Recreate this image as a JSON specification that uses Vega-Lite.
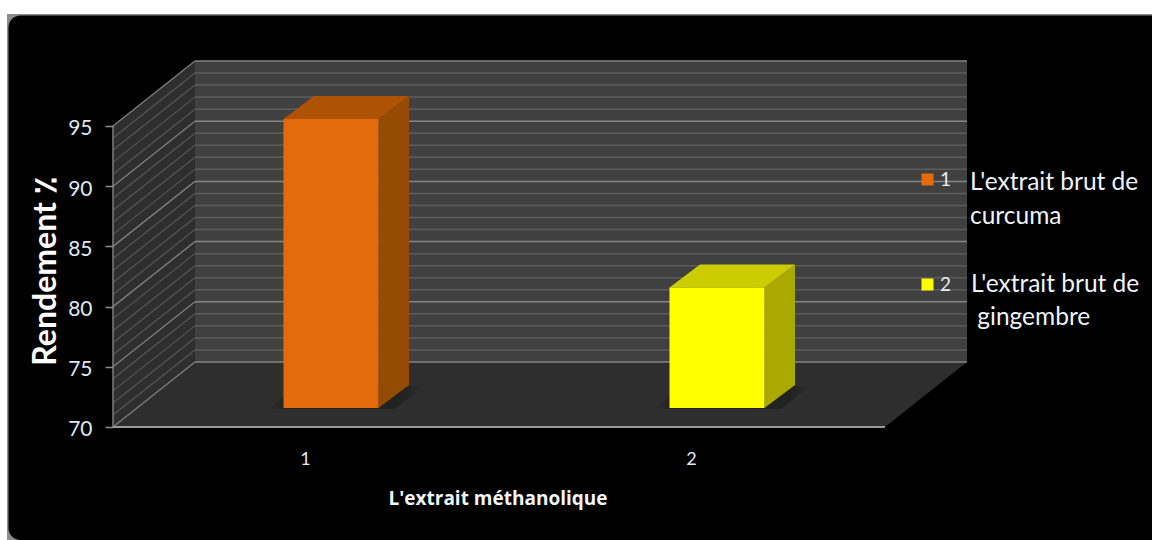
{
  "$schema": "https://vega.github.io/schema/vega-lite/v6.json",
  "width": 1152,
  "height": 540,
  "padding": 0,
  "autosize": {"type": "none"},
  "background": "#ffffff",
  "config": {"view": {"stroke": null}, "font": "Lato", "scale": {"continuousPadding": 0}},
  "resolve": {"axis": {"x": "independent", "y": "independent"}},
  "datasets": {
    "cadre": [{"plan": "cadre"}],
    "profondeur": [{"profondeur": 0}, {"profondeur": 1}],
    "graduations": [
      {"valeur": 70}, {"valeur": 71}, {"valeur": 72}, {"valeur": 73}, {"valeur": 74}, {"valeur": 75},
      {"valeur": 76}, {"valeur": 77}, {"valeur": 78}, {"valeur": 79}, {"valeur": 80}, {"valeur": 81},
      {"valeur": 82}, {"valeur": 83}, {"valeur": 84}, {"valeur": 85}, {"valeur": 86}, {"valeur": 87},
      {"valeur": 88}, {"valeur": 89}, {"valeur": 90}, {"valeur": 91}, {"valeur": 92}, {"valeur": 93},
      {"valeur": 94}, {"valeur": 95}
    ],
    "extraits": [
      {"extrait": 1, "rendement": 94, "profondeur": [0, 1], "description": ["L'extrait brut de", "curcuma"]},
      {"extrait": 2, "rendement": 80, "profondeur": [0, 1], "description": ["L'extrait brut de", "\u200b\u00a0gingembre"]}
    ]
  },
  "layer": [
    {
      "data": {"name": "cadre"},
      "mark": {"type": "rect", "fill": "#8c8c8c"},
      "encoding": {
        "x": {"datum": 0.2254, "type": "quantitative", "scale": {"domain": [0.2073, 3.1917]},
          "axis": {"orient": "bottom", "offset": -113, "values": [1, 2], "format": "d", "domain": false, "ticks": false, "grid": false,
            "labelColor": "#dfe8f2", "labelFontSize": 18, "labelPadding": 23, "labelOffset": -1, "zindex": 1,
            "title": "L'extrait méthanolique", "titleColor": "#f2f6fb", "titleFontSize": 19, "titleFontWeight": "bold", "titleFont": "Open Sans",
            "titleX": 497.5, "titleY": 77, "titleAlign": "center", "titleBaseline": "alphabetic"}},
        "x2": {"datum": 3.1917},
        "y": {"datum": 104.3, "type": "quantitative", "scale": {"domain": [60.614, 105.465]},
          "axis": {"orient": "left", "offset": -113, "values": [70, 75, 80, 85, 90, 95], "domain": false, "grid": false,
            "tickColor": "#8c8c8c", "tickWidth": 1.5, "tickSize": 8, "labelColor": "#dfe8f2", "labelFontSize": 21, "labelPadding": 13, "labelOffset": 3, "zindex": 1,
            "title": "Rendement ٪", "titleColor": "#ffffff", "titleFontSize": 32, "titleFontWeight": "bold", "titleFont": "Lato",
            "titleX": -58, "titleY": 271, "titleAlign": "center", "titleBaseline": "alphabetic"}},
        "y2": {"datum": 60.614}
      }
    },
    {
      "data": {"name": "cadre"},
      "mark": {"type": "rect", "fill": "#000000", "cornerRadiusTopLeft": 12, "cornerRadiusBottomLeft": 12},
      "encoding": {
        "x": {"datum": 0.2293, "type": "quantitative", "scale": {"domain": [0.2073, 3.1917]}, "axis": null},
        "x2": {"datum": 3.1917},
        "y": {"datum": 104.18, "type": "quantitative", "scale": {"domain": [60.614, 105.465]}, "axis": null},
        "y2": {"datum": 60.614}
      }
    },
    {
      "data": {"name": "cadre"},
      "mark": {"type": "rect", "fill": "#404040", "xOffset": 82, "x2Offset": 82, "yOffset": -65, "y2Offset": -65},
      "encoding": {
        "x": {"datum": 0.5, "type": "quantitative", "scale": {"domain": [0.2073, 3.1917]}, "axis": null},
        "x2": {"datum": 2.5},
        "y": {"datum": 95, "type": "quantitative", "scale": {"domain": [60.614, 105.465]}, "axis": null},
        "y2": {"datum": 70}
      }
    },
    {
      "data": {"name": "profondeur"},
      "transform": [
        {"calculate": "0.5 + datum.profondeur * 0.2124", "as": "px"},
        {"calculate": "70 + datum.profondeur * 5.4", "as": "bas"},
        {"calculate": "95 + datum.profondeur * 5.4", "as": "haut"}
      ],
      "mark": {"type": "area", "fill": "#2e2e2e", "orient": "vertical"},
      "encoding": {
        "x": {"field": "px", "type": "quantitative", "scale": {"domain": [0.2073, 3.1917]}, "axis": null},
        "y": {"field": "haut", "type": "quantitative", "scale": {"domain": [60.614, 105.465]}, "axis": null},
        "y2": {"field": "bas"}
      }
    },
    {
      "data": {"name": "profondeur"},
      "transform": [
        {"calculate": "0.5 + datum.profondeur * 0.2124", "as": "gauche"},
        {"calculate": "2.5 + datum.profondeur * 0.2124", "as": "droite"},
        {"calculate": "70 + datum.profondeur * 5.4", "as": "niveau"}
      ],
      "mark": {"type": "area", "fill": "#2e2e2e", "orient": "horizontal"},
      "encoding": {
        "y": {"field": "niveau", "type": "quantitative", "scale": {"domain": [60.614, 105.465]}, "axis": null},
        "x": {"field": "gauche", "type": "quantitative", "scale": {"domain": [0.2073, 3.1917]}, "axis": null},
        "x2": {"field": "droite"}
      }
    },
    {
      "data": {"name": "graduations"},
      "transform": [{"filter": "datum.valeur % 5 != 0"}],
      "mark": {"type": "rule", "stroke": "#5c5c5c", "strokeWidth": 1.5, "xOffset": 82, "x2Offset": 82, "yOffset": -65},
      "encoding": {
        "x": {"datum": 0.5, "type": "quantitative", "scale": {"domain": [0.2073, 3.1917]}, "axis": null},
        "x2": {"datum": 2.5},
        "y": {"field": "valeur", "type": "quantitative", "scale": {"domain": [60.614, 105.465]}, "axis": null}
      }
    },
    {
      "data": {"name": "graduations"},
      "transform": [{"filter": "datum.valeur % 5 == 0"}],
      "mark": {"type": "rule", "stroke": "#858585", "strokeWidth": 1.5, "xOffset": 82, "x2Offset": 82, "yOffset": -65},
      "encoding": {
        "x": {"datum": 0.5, "type": "quantitative", "scale": {"domain": [0.2073, 3.1917]}, "axis": null},
        "x2": {"datum": 2.5},
        "y": {"field": "valeur", "type": "quantitative", "scale": {"domain": [60.614, 105.465]}, "axis": null}
      }
    },
    {
      "data": {"name": "graduations"},
      "transform": [{"filter": "datum.valeur % 5 != 0"}],
      "mark": {"type": "rule", "stroke": "#565656", "strokeWidth": 1.2, "x2Offset": 82, "y2Offset": -65},
      "encoding": {
        "x": {"datum": 0.5, "type": "quantitative", "scale": {"domain": [0.2073, 3.1917]}, "axis": null},
        "x2": {"datum": 0.5},
        "y": {"field": "valeur", "type": "quantitative", "scale": {"domain": [60.614, 105.465]}, "axis": null},
        "y2": {"field": "valeur"}
      }
    },
    {
      "data": {"name": "graduations"},
      "transform": [{"filter": "datum.valeur % 5 == 0"}],
      "mark": {"type": "rule", "stroke": "#7c7c7c", "strokeWidth": 1.4, "x2Offset": 82, "y2Offset": -65},
      "encoding": {
        "x": {"datum": 0.5, "type": "quantitative", "scale": {"domain": [0.2073, 3.1917]}, "axis": null},
        "x2": {"datum": 0.5},
        "y": {"field": "valeur", "type": "quantitative", "scale": {"domain": [60.614, 105.465]}, "axis": null},
        "y2": {"field": "valeur"}
      }
    },
    {
      "data": {"name": "cadre"},
      "mark": {"type": "rule", "stroke": "#7c7c7c", "strokeWidth": 1.5},
      "encoding": {
        "x": {"datum": 0.5, "type": "quantitative", "scale": {"domain": [0.2073, 3.1917]}, "axis": null},
        "y": {"datum": 70, "type": "quantitative", "scale": {"domain": [60.614, 105.465]}, "axis": null},
        "y2": {"datum": 95}
      }
    },
    {
      "data": {"name": "cadre"},
      "mark": {"type": "rule", "stroke": "#9a9a9a", "strokeWidth": 2},
      "encoding": {
        "x": {"datum": 0.5, "type": "quantitative", "scale": {"domain": [0.2073, 3.1917]}, "axis": null},
        "x2": {"datum": 2.5},
        "y": {"datum": 70, "type": "quantitative", "scale": {"domain": [60.614, 105.465]}, "axis": null}
      }
    },
    {
      "data": {"name": "extraits"},
      "transform": [
        {"flatten": ["profondeur"]},
        {"calculate": "datum.extrait - 0.165 + datum.profondeur * 0.079", "as": "gauche"},
        {"calculate": "datum.extrait + 0.165 + datum.profondeur * 0.079", "as": "droite"},
        {"calculate": "70 + datum.profondeur * 1.91", "as": "niveau"}
      ],
      "mark": {
        "type": "area", "orient": "horizontal", "xOffset": 25, "x2Offset": 25, "yOffset": -18,
        "fill": {
          "x1": 0, "x2": 1, "y1": 0, "y2": 0, "gradient": "linear",
          "stops": [
            {"offset": 0, "color": "rgba(34,34,34,0)"},
            {"offset": 0.12, "color": "rgba(34,34,34,1)"},
            {"offset": 0.86, "color": "rgba(34,34,34,1)"},
            {"offset": 1, "color": "rgba(34,34,34,0)"}
          ]
        }
      },
      "encoding": {
        "detail": {"field": "extrait"},
        "y": {"field": "niveau", "type": "quantitative", "scale": {"domain": [60.614, 105.465]}, "axis": null},
        "x": {"field": "gauche", "type": "quantitative", "scale": {"domain": [0.2073, 3.1917]}, "axis": null},
        "x2": {"field": "droite"}
      }
    },
    {
      "data": {"name": "extraits"},
      "transform": [
        {"flatten": ["profondeur"]},
        {"calculate": "datum.extrait + 0.1231 + datum.profondeur * 0.079", "as": "arete"},
        {"calculate": "datum.rendement + datum.profondeur * 1.91", "as": "haut"},
        {"calculate": "70 + datum.profondeur * 1.91", "as": "bas"}
      ],
      "mark": {"type": "area", "orient": "vertical", "xOffset": 25, "yOffset": -19, "y2Offset": -19},
      "encoding": {
        "detail": {"field": "extrait"},
        "fill": {"condition": {"test": "datum.extrait == 1", "value": "#964b05"}, "value": "#a9a900"},
        "x": {"field": "arete", "type": "quantitative", "scale": {"domain": [0.2073, 3.1917]}, "axis": null},
        "y": {"field": "haut", "type": "quantitative", "scale": {"domain": [60.614, 105.465]}, "axis": null},
        "y2": {"field": "bas"}
      }
    },
    {
      "data": {"name": "extraits"},
      "transform": [
        {"flatten": ["profondeur"]},
        {"calculate": "datum.extrait - 0.1231 + datum.profondeur * 0.079", "as": "gauche"},
        {"calculate": "datum.extrait + 0.1231 + datum.profondeur * 0.079", "as": "droite"},
        {"calculate": "datum.rendement + datum.profondeur * 1.91", "as": "niveau"}
      ],
      "mark": {"type": "area", "orient": "horizontal", "xOffset": 25, "x2Offset": 25, "yOffset": -19},
      "encoding": {
        "detail": {"field": "extrait"},
        "fill": {"condition": {"test": "datum.extrait == 1", "value": "#ae5205"}, "value": "#cccc00"},
        "y": {"field": "niveau", "type": "quantitative", "scale": {"domain": [60.614, 105.465]}, "axis": null},
        "x": {"field": "gauche", "type": "quantitative", "scale": {"domain": [0.2073, 3.1917]}, "axis": null},
        "x2": {"field": "droite"}
      }
    },
    {
      "data": {"name": "extraits"},
      "mark": {"type": "bar", "width": 95, "xOffset": 25, "yOffset": -19, "y2Offset": -19},
      "encoding": {
        "x": {"field": "extrait", "type": "quantitative", "scale": {"domain": [0.2073, 3.1917]}, "axis": null},
        "y": {"field": "rendement", "type": "quantitative", "scale": {"domain": [60.614, 105.465]}, "axis": null},
        "y2": {"datum": 70},
        "color": {
          "field": "extrait", "type": "nominal",
          "scale": {"domain": [1, 2], "range": ["#e56b0a", "#ffff00"]},
          "legend": {
            "orient": "none", "legendX": 918, "legendY": 170, "title": null, "symbolType": "square", "symbolSize": 144,
            "symbolStrokeWidth": 0, "labelColor": "#e6edf5", "labelFontSize": 19, "labelFont": "Lato", "rowPadding": 85, "labelOffset": 3
          }
        }
      }
    },
    {
      "data": {"name": "extraits"},
      "transform": [{"filter": "datum.extrait == 1"}],
      "mark": {"type": "text", "align": "left", "baseline": "alphabetic", "fontSize": 24.5, "font": "Lato", "color": "#eef3f9", "lineHeight": 34},
      "encoding": {
        "x": {"datum": 2.7202, "type": "quantitative", "scale": {"domain": [0.2073, 3.1917]}, "axis": null},
        "y": {"datum": 89.69, "type": "quantitative", "scale": {"domain": [60.614, 105.465]}, "axis": null},
        "text": {"field": "description"}
      }
    },
    {
      "data": {"name": "extraits"},
      "transform": [{"filter": "datum.extrait == 2"}],
      "mark": {"type": "text", "align": "left", "baseline": "alphabetic", "fontSize": 24.5, "font": "Lato", "color": "#eef3f9", "lineHeight": 33},
      "encoding": {
        "x": {"datum": 2.7228, "type": "quantitative", "scale": {"domain": [0.2073, 3.1917]}, "axis": null},
        "y": {"datum": 81.21, "type": "quantitative", "scale": {"domain": [60.614, 105.465]}, "axis": null},
        "text": {"field": "description"}
      }
    }
  ]
}
